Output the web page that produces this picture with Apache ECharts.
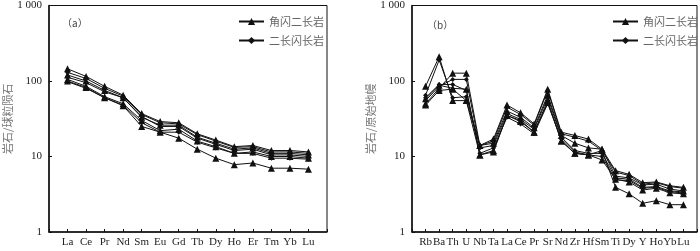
<!DOCTYPE html>
<html>
<head>
<meta charset="utf-8">
<script src="https://cdn.jsdelivr.net/npm/echarts@6/dist/echarts.min.js"></script>
<style>html,body{margin:0;padding:0;background:#fff}#c{width:700px;height:251px}</style>
</head>
<body>
<div id="c"></div>
<script>
// ---- Data ----
const reeCats = ['La','Ce','Pr','Nd','Sm','Eu','Gd','Tb','Dy','Ho','Er','Tm','Yb','Lu'];
const traceCats = ['Rb','Ba','Th','U','Nb','Ta','La','Ce','Pr','Sr','Nd','Zr','Hf','Sm','Ti','Dy','Y','Ho','Yb','Lu'];
const yTicks = [1, 10, 100, 1000];
const nameA = '角闪二长岩';
const nameB = '二长闪长岩';

// REE (chondrite normalized)
const reeA1 = [145,115,85,65,37,29,28,20,16.5,13.5,14,12,12,11.5];
const reeA2 = [120,100,75,60,33,26,26,18,15,12.5,13,11,11,10.5];
const reeA3 = [105,85,62,50,30,22,23,16,13.5,11,11.5,10,10,9.5];
const reeA4 = [100,82,60,47,25,21,17.5,12.5,9.5,7.8,8.2,7,7,6.8];
const reeB1 = [130,108,80,63,36,28,27,19.5,16,13.2,13.5,11.5,11.5,11];
const reeB2 = [112,95,72,60,34,25,25,17.5,14.5,12,12.5,10.5,10.5,10];
const reeB3 = [98,80,60,48,28,21,21,15.5,13,11,11,9.5,9.5,9.2];

// Trace elements (primitive mantle normalized)
const trA1 = [85,210,55,55,14,17,48,38,27,78,21,19,17,12.5,6.5,5.8,4.5,4.6,4.1,3.9];
const trA2 = [50,80,127,127,14,15,40,33,24,65,19,15,13,12.5,5.5,5.2,4.2,4.3,3.7,3.5];
const trA3 = [48,75,78,55,10.5,11.5,35,29,21,55,16,11,10.5,9,5,4.6,3.6,3.8,3.3,3.2];
const trA4 = [58,88,80,78,10.5,12,35,30,21,52,16,11,10.5,12,3.9,3.2,2.4,2.6,2.3,2.3];
const trB1 = [65,190,60,62,14,16,45,36,26,75,20,18,16,12,6.2,5.6,4.3,4.5,4.0,3.8];
const trB2 = [55,85,105,105,13,14,37,31,23,60,18,12,11,11,5.2,5.0,3.9,4.0,3.5,3.4];
const trB3 = [60,90,90,75,11,13,33,27,20,50,17,11.5,10.5,10,4.9,4.8,3.8,3.9,3.4,3.3];

const reeA = [reeA1, reeA2, reeA3, reeA4];
const reeB = [reeB1, reeB2, reeB3];
const trA = [trA1, trA2, trA3, trA4];
const trB = [trB1, trB2, trB3];

// ---- Chart ----
const serif = "'Liberation Serif', 'Times New Roman', serif";
const cjk = "'Noto Sans CJK SC', sans-serif";
const toPts = arr => arr.map((v, i) => [i + 1, v]);

function mkSeries(arr, name, gi, tri) {
  return arr.map(d => ({
    type: 'line', name: name, xAxisIndex: gi, yAxisIndex: gi,
    data: toPts(d),
    symbol: tri ? 'triangle' : 'diamond',
    symbolSize: tri ? 7 : 5,
    lineStyle: { color: '#111', width: 1 },
    itemStyle: { color: '#111' },
    animation: false
  }));
}

function xAx(gi, cats, fs) {
  return {
    type: 'value', gridIndex: gi, min: 0, max: cats.length + 1, interval: 1,
    axisLine: { show: true, lineStyle: { color: '#111', width: 1.5 } },
    axisTick: { show: true, inside: true, length: 3, lineStyle: { color: '#111' } },
    splitLine: { show: false },
    axisLabel: {
      margin: 5, fontFamily: serif, fontSize: fs, color: '#222',
      formatter: v => cats[v - 1] || '', showMinLabel: true, showMaxLabel: true
    }
  };
}

function yAx(gi, name, gap) {
  return {
    type: 'log', logBase: 10, gridIndex: gi, min: yTicks[0], max: yTicks[yTicks.length - 1],
    name: name, nameLocation: 'middle', nameGap: gap,
    nameTextStyle: { fontFamily: cjk, fontSize: 11, color: '#777' },
    axisLine: { show: true, lineStyle: { color: '#111', width: 1.5 } },
    axisTick: { show: true, inside: true, length: 3, lineStyle: { color: '#111' } },
    minorTick: { show: false },
    splitLine: { show: false },
    axisLabel: {
      margin: 7, fontFamily: serif, fontSize: 11, color: '#222',
      formatter: v => v === 1000 ? '1 000' : String(v)
    }
  };
}

const chart = echarts.init(document.getElementById('c'), null, { renderer: 'canvas' });
chart.setOption({
  animation: false,
  backgroundColor: '#fff',
  grid: [
    { left: 49, top: 4, width: 278, height: 228, show: true, borderColor: '#111', borderWidth: 1 },
    { left: 412, top: 4, width: 286, height: 228, show: true, borderColor: '#111', borderWidth: 1 }
  ],
  title: [
    { text: '（a）', left: 57, top: 13, textStyle: { fontFamily: cjk, fontSize: 10, fontWeight: 'normal', color: '#444' } },
    { text: '（b）', left: 422, top: 15, textStyle: { fontFamily: cjk, fontSize: 10, fontWeight: 'normal', color: '#444' } }
  ],
  legend: [
    { orient: 'vertical', left: 233, top: 11, itemWidth: 25, itemHeight: 9, itemGap: 8,
      data: [nameA, nameB], selectedMode: false,
      textStyle: { fontFamily: cjk, fontSize: 11, color: '#666' } },
    { orient: 'vertical', left: 607, top: 11, itemWidth: 25, itemHeight: 9, itemGap: 8,
      data: [nameA, nameB], selectedMode: false,
      textStyle: { fontFamily: cjk, fontSize: 11, color: '#666' } }
  ],
  xAxis: [xAx(0, reeCats, 11), xAx(1, traceCats, 11)],
  yAxis: [yAx(0, '岩石/球粒陨石', 28), yAx(1, '岩石/原始地幔', 30)],
  series: [
    ...mkSeries(reeA, nameA, 0, true),
    ...mkSeries(reeB, nameB, 0, false),
    ...mkSeries(trA, nameA, 1, true),
    ...mkSeries(trB, nameB, 1, false)
  ]
});
</script>
</body>
</html>
